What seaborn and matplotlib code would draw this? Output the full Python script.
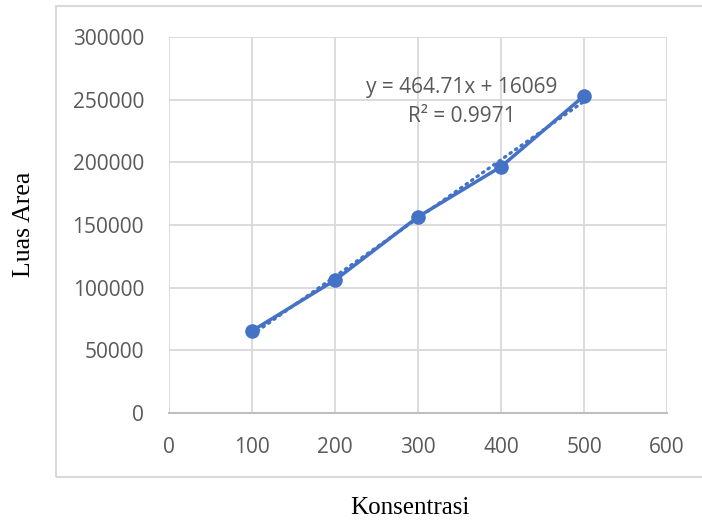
import matplotlib
matplotlib.use("Agg")
import matplotlib.pyplot as plt
import seaborn as sns
import numpy as np
import pandas as pd
from matplotlib.patches import Rectangle

konsentrasi = [100, 200, 300, 400, 500]
luas_area = [65500, 106000, 156500, 196500, 253000]
x_ticks = [0, 100, 200, 300, 400, 500, 600]
y_ticks = [0, 50000, 100000, 150000, 200000, 250000, 300000]
equation = "y = 464.71x + 16069"
r_squared = "R² = 0.9971"

df = pd.DataFrame({"Konsentrasi": konsentrasi, "Luas Area": luas_area})

sns.set_theme(style="white")
plt.rcParams['font.family'] = ['Open Sans', 'DejaVu Sans']

blue = "#4472C4"
grid = "#d9d9d9"
text_col = "#595959"

fig = plt.figure(figsize=(7.02, 5.22), dpi=100)
ax = fig.add_axes([169/702, 1 - 413/522, (667-169)/702, (413-37)/522])

# chart area border
fig.patches.append(Rectangle((56/702, 1 - 477/522), 1.2, (477-6)/522,
                             transform=fig.transFigure, fill=False,
                             edgecolor=grid, linewidth=1.5, zorder=0))

sns.lineplot(data=df, x="Konsentrasi", y="Luas Area", ax=ax, color=blue,
             linewidth=2.5, marker="o", markersize=10.5, markeredgewidth=0,
             zorder=3)
sns.regplot(data=df, x="Konsentrasi", y="Luas Area", ax=ax, scatter=False,
            ci=None, color=blue,
            line_kws=dict(linewidth=2.3, linestyle=(0, (0.5, 1.6)),
                          dash_capstyle="round", zorder=4))

ax.set_xlim(0, 600)
ax.set_ylim(0, 300000)
ax.set_xticks(x_ticks)
ax.set_yticks(y_ticks)
ax.set_xticklabels([str(v) for v in x_ticks])
ax.set_yticklabels([str(v) for v in y_ticks])
ax.grid(True, color=grid, linewidth=1.3)
ax.set_axisbelow(True)
for s in ["top", "right", "left"]:
    ax.spines[s].set_visible(False)
ax.spines["bottom"].set_color("#bfbfbf")
ax.spines["bottom"].set_linewidth(1.5)
ax.tick_params(axis="both", length=0, labelsize=15, colors=text_col)
ax.tick_params(axis="y", pad=18)
ax.tick_params(axis="x", pad=17)
ax.set_xlabel("")
ax.set_ylabel("")

ax.text(462/702, 1 - 88/522, equation, transform=fig.transFigure,
        ha="center", va="center", fontsize=15, color=text_col)
ax.text(462/702, 1 - 117/522, r_squared, transform=fig.transFigure,
        ha="center", va="center", fontsize=15, color=text_col)

fig.text(410/702, 1 - 508/522, "Konsentrasi", ha="center", va="center",
         fontsize=18, family="Liberation Serif", color="black")
fig.text(24/702, 1 - 224/522, "Luas Area", ha="center", va="center",
         rotation=90, fontsize=18.5, family="Liberation Serif", color="black")

fig.savefig("out.png", dpi=100)
